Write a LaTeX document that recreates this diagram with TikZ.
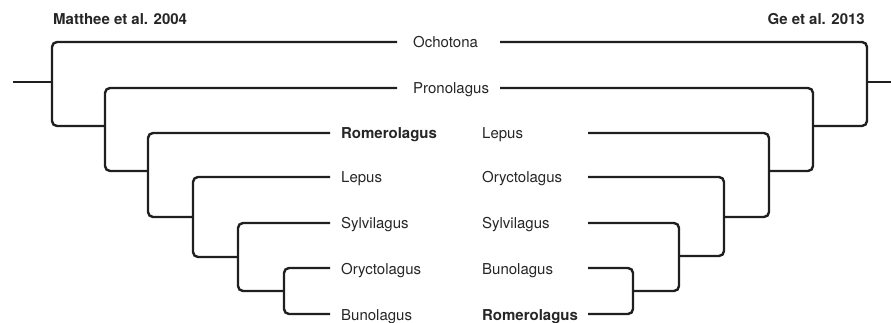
\documentclass[tikz,border=0pt]{standalone}
\usepackage{fontspec}
\setmainfont{TeX Gyre Heros}
\tikzset{
  branch/.style={line width=2.4pt, rounded corners=5pt, draw=black!88},
  taxon/.style={anchor=base west, inner sep=0pt, text=black!85, font=\fontsize{15}{18}\selectfont},
  study/.style={taxon, font=\fontsize{15}{18}\selectfont\bfseries},
}

\begin{document}
\begin{tikzpicture}[x=1pt,y=-1pt]
			\useasboundingbox (0,0) rectangle (891,323);

			% study names
			\node[study] (matthee) at (53,25) {Matthee et al. 2004};
			\node[study,anchor=base east] (ge) at (865,25) {Ge et al. 2013};

			% shared taxa in the middle
			\node[taxon] (och) at (413,48) {Ochotona};
			\node[taxon] (pro) at (413,94) {Pronolagus};

			% Matthee et al. 2004
			\node[taxon] (lRom) at (341,139) {\bfseries Romerolagus};
			\node[taxon] (lLep) at (341,183) {Lepus};
			\node[taxon] (lSyl) at (341,229) {Sylvilagus};
			\node[taxon] (lOry) at (341,274) {Oryctolagus};
			\node[taxon] (lBun) at (341,320) {Bunolagus};

			% Ge et al. 2013
			\node[taxon] (rLep) at (482,139) {Lepus};
			\node[taxon] (rOry) at (482,183) {Oryctolagus};
			\node[taxon] (rSyl) at (482,229) {Sylvilagus};
			\node[taxon] (rBun) at (482,274) {Bunolagus};
			\node[taxon] (rRom) at (482,320) {\bfseries Romerolagus};

			% tips and inner nodes, left tree
			\coordinate (aOch) at (397,42);
			\coordinate (aPro) at (397,88);
			\coordinate (aRom) at (330,133);
			\coordinate (aLep) at (330,177);
			\coordinate (aSyl) at (330,223);
			\coordinate (aOry) at (330,268);
			\coordinate (aBun) at (330,314);
			\coordinate (a0) at (13,82);
			\coordinate (a1) at (52,82);
			\coordinate (a2) at (105,126);
			\coordinate (a3) at (148,171);
			\coordinate (a4) at (193,217);
			\coordinate (a5) at (238,257);
			\coordinate (a6) at (284,291);

			\draw[branch] (a0) -- (a1);
			\draw[branch] (aOch) -| (a1) |- (a2);
			\draw[branch] (aPro) -| (a2) |- (a3);
			\draw[branch] (aRom) -| (a3) |- (a4);
			\draw[branch] (aLep) -| (a4) |- (a5);
			\draw[branch] (aSyl) -| (a5) |- (a6);
			\draw[branch] (aOry) -| (a6) |- (aBun);

			% tips and inner nodes, right tree
			\coordinate (bOch) at (500,42);
			\coordinate (bPro) at (500,88);
			\coordinate (bLep) at (588,133);
			\coordinate (bOry) at (588,177);
			\coordinate (bSyl) at (588,223);
			\coordinate (bBun) at (588,268);
			\coordinate (bRom) at (588,314);
			\coordinate (b0) at (891,82);
			\coordinate (b1) at (867,82);
			\coordinate (b2) at (813,126);
			\coordinate (b3) at (769,171);
			\coordinate (b4) at (724,217);
			\coordinate (b5) at (679,256);
			\coordinate (b6) at (633,291);

			\draw[branch] (b0) -- (b1);
			\draw[branch] (bOch) -| (b1) |- (b2);
			\draw[branch] (bPro) -| (b2) |- (b3);
			\draw[branch] (bLep) -| (b3) |- (b4);
			\draw[branch] (bOry) -| (b4) |- (b5);
			\draw[branch] (bSyl) -| (b5) |- (b6);
			\draw[branch] (bBun) -| (b6) |- (bRom);
		\end{tikzpicture}
\end{document}
